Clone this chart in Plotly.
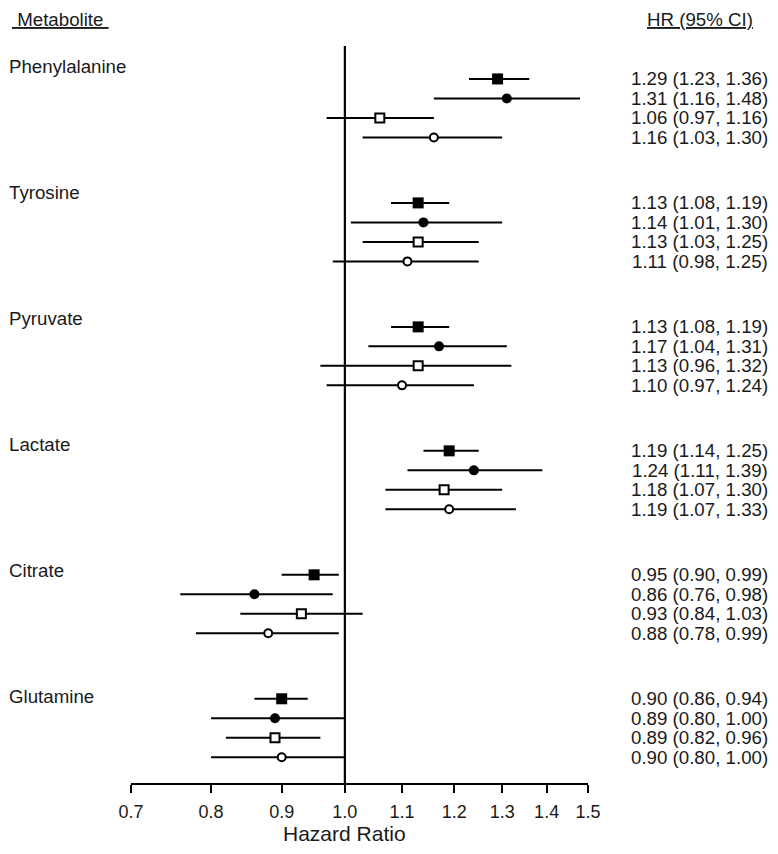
import plotly.graph_objects as go

metabolites = ["Phenylalanine", "Tyrosine", "Pyruvate", "Lactate", "Citrate", "Glutamine"]
tick_vals = [0.7, 0.8, 0.9, 1.0, 1.1, 1.2, 1.3, 1.4, 1.5]

# four estimates per metabolite (filled square, filled circle, open square, open circle)
hr_1 = [1.29, 1.13, 1.13, 1.19, 0.95, 0.90]
lo_1 = [1.23, 1.08, 1.08, 1.14, 0.90, 0.86]
hi_1 = [1.36, 1.19, 1.19, 1.25, 0.99, 0.94]

hr_2 = [1.31, 1.14, 1.17, 1.24, 0.86, 0.89]
lo_2 = [1.16, 1.01, 1.04, 1.11, 0.76, 0.80]
hi_2 = [1.48, 1.30, 1.31, 1.39, 0.98, 1.00]

hr_3 = [1.06, 1.13, 1.13, 1.18, 0.93, 0.89]
lo_3 = [0.97, 1.03, 0.96, 1.07, 0.84, 0.82]
hi_3 = [1.16, 1.25, 1.32, 1.30, 1.03, 0.96]

hr_4 = [1.16, 1.11, 1.10, 1.19, 0.88, 0.90]
lo_4 = [1.03, 0.98, 0.97, 1.07, 0.78, 0.80]
hi_4 = [1.30, 1.25, 1.24, 1.33, 0.99, 1.00]

series = [
    ("Estimate 1", hr_1, lo_1, hi_1),
    ("Estimate 2", hr_2, lo_2, hi_2),
    ("Estimate 3", hr_3, lo_3, hi_3),
    ("Estimate 4", hr_4, lo_4, hi_4),
]

# layout of rows (in row units)
GROUP_GAP = 6.36
LABEL_GAP = 6.46
LABEL_OFF = -0.62
TOP_PAD = 1.69
BOT_PAD = 1.32

marker_styles = [
    dict(symbol="square", size=11, color="black", line=dict(width=0)),
    dict(symbol="circle", size=10, color="black", line=dict(width=0)),
    dict(symbol="square", size=9, color="white", line=dict(width=2, color="black")),
    dict(symbol="circle", size=8, color="white", line=dict(width=2, color="black")),
]

FONT = "Liberation Sans, Arial, sans-serif"
TXT = "#1a1a1a"
LBL = 18.7

n_groups = len(metabolites)
y_last = (n_groups - 1) * GROUP_GAP + 3
y_range = [y_last + BOT_PAD, -TOP_PAD]

fig = go.Figure()

# reference line at HR = 1
fig.add_trace(go.Scatter(
    x=[1.0, 1.0], y=y_range, mode="lines",
    line=dict(color="black", width=2.2), hoverinfo="skip", showlegend=False,
    cliponaxis=False,
))

for k, (name, hr, lo, hi) in enumerate(series):
    ys = [g * GROUP_GAP + k for g in range(n_groups)]
    fig.add_trace(go.Scatter(
        x=hr, y=ys, mode="markers", name=name,
        marker=marker_styles[k],
        error_x=dict(
            type="data", symmetric=False,
            array=[h - m for h, m in zip(hi, hr)],
            arrayminus=[m - l for m, l in zip(hr, lo)],
            color="black", thickness=2, width=0,
        ),
        customdata=[[m, l, h] for m, l, h in zip(metabolites, lo, hi)],
        hovertemplate="%{customdata[0]}: %{x:.2f} (%{customdata[1]:.2f}, %{customdata[2]:.2f})<extra>" + name + "</extra>",
        showlegend=False, cliponaxis=False,
    ))

# the page body adds an 8px margin all round, so keep the figure inside the window
PAGE = 8
W, H = 778 - 2 * PAGE, 854 - 2 * PAGE
PLOT_LEFT, PLOT_RIGHT, PLOT_TOP, PLOT_BOTTOM = 131, 588, 46, 783  # page pixels
L_MARGIN, T_MARGIN = PLOT_LEFT - PAGE, PLOT_TOP - PAGE
R_MARGIN = W - (PLOT_RIGHT - PAGE)
B_MARGIN = H - (PLOT_BOTTOM - PAGE)
plot_w = W - L_MARGIN - R_MARGIN
plot_h = H - T_MARGIN - B_MARGIN


def px_x(p):
    return (p - PAGE - L_MARGIN) / plot_w


def px_y(p):
    return 1 - (p - PAGE - T_MARGIN) / plot_h


annotations = []
for g, m in enumerate(metabolites):
    annotations.append(dict(
        text=m, xref="paper", yref="y", x=px_x(PAGE - 1), y=g * LABEL_GAP + LABEL_OFF,
        xanchor="left", yanchor="middle", showarrow=False,
        font=dict(family=FONT, size=LBL, color=TXT),
    ))
    for k, (name, hr, lo, hi) in enumerate(series):
        annotations.append(dict(
            text=f"{hr[g]:.2f} ({lo[g]:.2f}, {hi[g]:.2f})",
            xref="paper", yref="y", x=px_x(W + PAGE), y=g * GROUP_GAP + k,
            xanchor="right", yanchor="middle", showarrow=False,
            font=dict(family=FONT, size=LBL, color=TXT),
        ))

annotations.append(dict(
    text="<u> Metabolite </u>", xref="paper", yref="paper",
    x=px_x(11), y=px_y(PAGE),
    xanchor="left", yanchor="top", showarrow=False, borderpad=0,
    font=dict(family=FONT, size=LBL, color=TXT),
))
annotations.append(dict(
    text="<u>HR (95% CI)</u>", xref="paper", yref="paper",
    x=px_x(700), y=px_y(PAGE),
    xanchor="center", yanchor="top", showarrow=False, borderpad=0,
    font=dict(family=FONT, size=LBL, color=TXT),
))
annotations.append(dict(
    text="Hazard Ratio", xref="x", yref="paper", x=0.0, y=px_y(H + PAGE),
    xanchor="center", yanchor="bottom", showarrow=False, borderpad=0,
    font=dict(family=FONT, size=21, color=TXT),
))

fig.update_layout(
    width=W, height=H,
    margin=dict(l=L_MARGIN, r=R_MARGIN, t=T_MARGIN, b=B_MARGIN),
    paper_bgcolor="white", plot_bgcolor="white",
    font=dict(family=FONT, size=18, color=TXT),
    annotations=annotations,
    xaxis=dict(
        type="log", range=[-0.15490196, 0.17609126],
        tickvals=tick_vals, tickformat=".1f",
        showline=True, linecolor="black", linewidth=2,
        ticks="outside", ticklen=8, tickwidth=2, tickcolor="black",
        showgrid=False, zeroline=False,
        tickfont=dict(family=FONT, size=18, color=TXT),
        ticklabelstandoff=3,
    ),
    yaxis=dict(
        range=y_range, showgrid=False, zeroline=False, showticklabels=False,
        showline=False, ticks="",
    ),
)

fig.write_html("out.html")
